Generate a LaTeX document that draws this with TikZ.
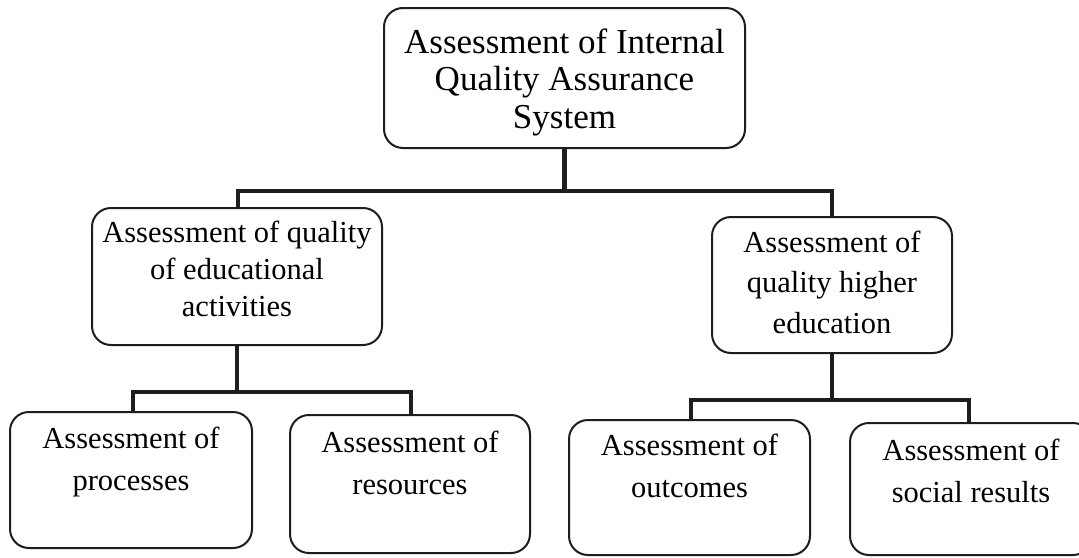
\documentclass[tikz,border=0pt]{standalone}
\usepackage{fontspec}
\setmainfont{Liberation Serif}
\newcommand\boxtxt[4]{\parbox[c][#2][t]{#1}{\centering\rule{0pt}{#3}#4}}
\tikzset{
  box/.style={draw=ink, line width=2pt, rounded corners=19pt, inner sep=0pt, fill=white},
  conn/.style={draw=ink, line width=4.6pt, line join=miter},
  bigfont/.style={font=\fontsize{35}{37.5}\selectfont},
  midfont/.style={font=\fontsize{30.5}{37}\selectfont},
  midfontb/.style={font=\fontsize{30.5}{40.5}\selectfont},
  lowfont/.style={font=\fontsize{30.5}{42}\selectfont},
}
\definecolor{ink}{HTML}{1E1E1E}
\begin{document}
\begin{tikzpicture}[x=1pt,y=-1pt]
\useasboundingbox (0,0) rectangle (1079,557);
\clip (0,0) rectangle (1079,557);
\fill[white] (0,0) rectangle (1079,557);
% boxes
\node[box,bigfont] (top) at (564.5,78) {\boxtxt{361pt}{140pt}{45pt}{Assessment of Internal\\Quality Assurance\\System}};
\node[box,midfont] (ml) at (237,276.5) {\boxtxt{290pt}{137pt}{34.5pt}{Assessment of quality\\of educational\\activities}};
\node[box,midfontb] (mr) at (832,285) {\boxtxt{240pt}{136pt}{35pt}{Assessment of\\quality higher\\education}};
\node[box,lowfont] (b1) at (131,480) {\boxtxt{242pt}{136pt}{36pt}{Assessment of\\processes}};
\node[box,lowfont] (b2) at (410,484) {\boxtxt{240pt}{138pt}{37pt}{Assessment of\\resources}};
\node[box,lowfont] (b3) at (689.5,487.5) {\boxtxt{241pt}{135pt}{35pt}{Assessment of\\outcomes}};
\node[box,lowfont] (b4) at (971,489) {\boxtxt{242pt}{132pt}{37pt}{Assessment of\\social results}};
% connectors
\draw[conn] (top.south) -- ++(0,42) coordinate (jt);
\draw[conn] ([xshift=1pt]ml.north) |- (jt) -| (mr.north);
\draw[conn] (ml.south) -- ++(0,46) coordinate (jl);
\draw[conn] ([xshift=2pt]b1.north) |- (jl) -| ([xshift=1pt]b2.north);
\draw[conn] (mr.south) -- ++(0,46) coordinate (jr);
\draw[conn] ([xshift=1.5pt]b3.north) |- (jr) -| ([xshift=-2pt]b4.north);
\end{tikzpicture}
\end{document}
